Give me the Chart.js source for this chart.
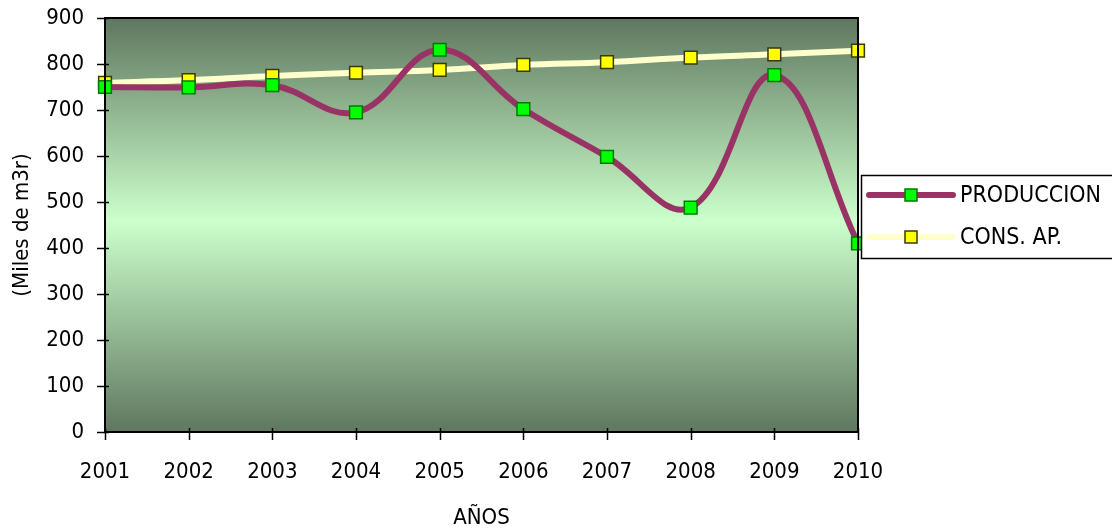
<!DOCTYPE html>
<html>
<head>
<meta charset="utf-8">
<script src="https://cdn.jsdelivr.net/npm/chart.js@4/dist/chart.umd.min.js"></script>
<style>
  html, body { margin: 0; padding: 0; background: #ffffff; }
  #wrap { width: 1112px; height: 531px; }
</style>
</head>
<body>
<div id="wrap"><canvas id="c" width="1112" height="531"></canvas></div>
<script>
// Years on the x axis
const years = ['2001','2002','2003','2004','2005','2006','2007','2008','2009','2010'];
// Water production (thousand m3)
const produccion = [750, 749, 754, 695, 831, 702, 598, 488, 776, 410];
// Drinking-water consumption (thousand m3)
const consAP = [759, 765, 774, 781, 787, 798, 804, 814, 821, 829];
// Y axis ticks
const yTicks = [0, 100, 200, 300, 400, 500, 600, 700, 800, 900];

const FONT = '"Liberation Sans Narrow", "DejaVu Sans Condensed", "Liberation Sans", sans-serif';

// Gradient fill behind the plot area, plus its frame
const plotBackground = {
  id: 'plotBackground',
  beforeDraw(chart) {
    const { ctx, chartArea: a } = chart;
    const g = ctx.createLinearGradient(0, a.top, 0, a.bottom);
    g.addColorStop(0, '#5f775f');
    g.addColorStop(0.49, '#ccffcc');
    g.addColorStop(1, '#5f775f');
    ctx.save();
    ctx.fillStyle = g;
    ctx.fillRect(a.left, a.top, a.right - a.left, a.bottom - a.top);
    ctx.restore();
  },
  afterDatasetsDraw(chart) {
    const { ctx, chartArea: a, scales } = chart;
    ctx.save();
    ctx.strokeStyle = '#000000';
    ctx.lineWidth = 2;
    ctx.strokeRect(a.left, a.top, a.right - a.left, a.bottom - a.top);
    // crossing tick marks
    ctx.lineWidth = 1.5;
    ctx.beginPath();
    yTicks.forEach(v => {
      const y = Math.round(scales.y.getPixelForValue(v)) + 0.5;
      ctx.moveTo(a.left - 8, y);
      ctx.lineTo(a.left + 4, y);
    });
    years.forEach((_, i) => {
      const x = Math.round(scales.x.getPixelForValue(i)) + 0.5;
      ctx.moveTo(x, a.bottom - 4);
      ctx.lineTo(x, a.bottom + 8);
    });
    ctx.stroke();
    ctx.restore();
  }
};

// Framed legend at the right of the plot, line sample with its marker
const boxLegend = {
  id: 'boxLegend',
  afterDraw(chart) {
    const { ctx } = chart;
    const x0 = 861, y0 = 175, w = 260, h = 83;
    ctx.save();
    ctx.fillStyle = '#ffffff';
    ctx.fillRect(x0, y0, w, h);
    ctx.strokeStyle = '#000000';
    ctx.lineWidth = 1.5;
    ctx.strokeRect(x0 + 0.5, y0 + 0.5, w, h);
    const rows = [195, 237];
    chart.data.datasets.forEach((ds, i) => {
      const y = rows[i];
      ctx.strokeStyle = ds.borderColor;
      ctx.lineWidth = ds.borderWidth;
      ctx.lineCap = 'round';
      ctx.beginPath();
      ctx.moveTo(869, y);
      ctx.lineTo(953, y);
      ctx.stroke();
      ctx.fillStyle = ds.pointBackgroundColor;
      ctx.strokeStyle = ds.pointBorderColor;
      ctx.lineWidth = ds.pointBorderWidth;
      ctx.fillRect(905, y - 6, 12, 12);
      ctx.strokeRect(905, y - 6, 12, 12);
      ctx.fillStyle = '#000000';
      ctx.font = '23px ' + FONT;
      ctx.textBaseline = 'middle';
      ctx.textAlign = 'left';
      ctx.fillText(ds.label, 960, y + 1);
    });
    ctx.restore();
  }
};

new Chart(document.getElementById('c'), {
  type: 'line',
  data: {
    labels: years,
    datasets: [
      {
        label: 'PRODUCCION',
        data: produccion,
        borderColor: '#993366',
        borderWidth: 6,
        tension: 0.4,
        pointStyle: 'rect',
        pointRadius: 9,
        pointBackgroundColor: '#00ff00',
        pointBorderColor: '#007a00',
        pointBorderWidth: 1.5,
        clip: false
      },
      {
        label: 'CONS. AP.',
        data: consAP,
        borderColor: '#ffffcc',
        borderWidth: 6,
        tension: 0.4,
        pointStyle: 'rect',
        pointRadius: 9,
        pointBackgroundColor: '#ffff00',
        pointBorderColor: '#3a3a00',
        pointBorderWidth: 1.5,
        clip: false
      }
    ]
  },
  options: {
    responsive: false,
    animation: false,
    devicePixelRatio: 1,
    layout: { padding: { top: 18, right: 254, left: 0, bottom: 0 } },
    plugins: {
      legend: { display: false },
      tooltip: { enabled: false }
    },
    scales: {
      x: {
        offset: false,
        grid: { display: false, drawTicks: false },
        border: { display: false },
        ticks: {
          color: '#000000',
          font: { family: FONT, size: 22 },
          padding: 27,
          maxRotation: 0,
          autoSkip: false
        },
        title: {
          display: true,
          text: 'AÑOS',
          color: '#000000',
          font: { family: FONT, size: 22 },
          padding: { top: 10, bottom: 0 }
        },
        afterFit(scale) { scale.height = 531 - 432; }
      },
      y: {
        min: 0,
        max: 900,
        afterBuildTicks(scale) { scale.ticks = yTicks.map(v => ({ value: v })); },
        grid: { display: false, drawTicks: false },
        border: { display: false },
        ticks: {
          color: '#000000',
          font: { family: FONT, size: 22 },
          padding: 21
        },
        title: {
          display: true,
          text: '(Miles de m3r)',
          color: '#000000',
          font: { family: FONT, size: 22 },
          padding: { top: 9, bottom: 0 }
        },
        afterFit(scale) {
          scale.width = 105;
          scale.paddingTop = 0;
          scale.paddingBottom = 0;
        }
      }
    }
  },
  plugins: [plotBackground, boxLegend]
});
</script>
</body>
</html>
